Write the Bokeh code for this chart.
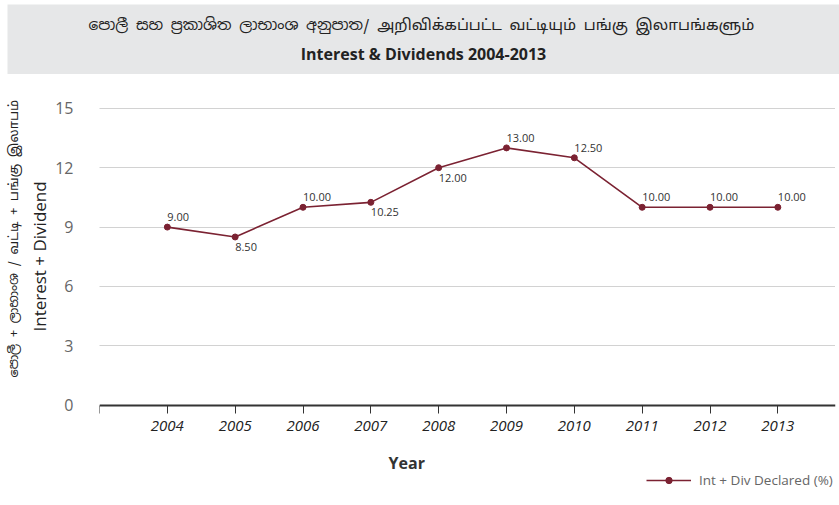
from bokeh.plotting import figure
from bokeh.models import (ColumnDataSource, Range1d, FixedTicker, Title, Label, Legend, LegendItem)
from bokeh.core.properties import value
from bokeh.embed import file_html
from bokeh.resources import INLINE

# ---- data ----
years = [2004, 2005, 2006, 2007, 2008, 2009, 2010, 2011, 2012, 2013]
int_div = [9.00, 8.50, 10.00, 10.25, 12.00, 13.00, 12.50, 10.00, 10.00, 10.00]
label_side = ["above", "below", "above", "below", "below", "above", "above", "above", "above", "above"]
y_ticks = [0, 3, 6, 9, 12, 15]
x_ticks = [2003, 2004, 2005, 2006, 2007, 2008, 2009, 2010, 2011, 2012, 2013]

title_si_ta = "පොලී සහ ප්‍රකාශිත ලාභාංශ අනුපාත/ அறிவிக்கப்பட்ட வட்டியும் பங்கு இலாபங்களும்"
title_en = "Interest & Dividends 2004-2013"
ylabel_si_ta = "පොලී + ලාභාංශ / வட்டி + பங்கு இலாபம்"
ylabel_en = "Interest + Dividend"
xlabel = "Year"
series_name = "Int + Div Declared (%)"

LINE = "#7b2232"
GREY_BAND = "#e6e7e8"
FONT = "Open Sans"
SI_FONT = "Noto Sans Sinhala, Noto Sans Tamil, Noto Sans"

W = 839

# ---- title band (its own root, frame = whole canvas, units = pixels) ----
TOP_H = 74
top = figure(width=W, height=TOP_H, x_range=Range1d(0, W), y_range=Range1d(TOP_H, 0),
             toolbar_location=None, output_backend="svg",
             x_axis_type=None, y_axis_type=None, min_border=0,
             min_border_left=0, min_border_right=0, min_border_top=0, min_border_bottom=0)
top.background_fill_color = "white"
top.border_fill_color = "white"
top.outline_line_color = None
top.grid.visible = False
top.quad(left=[7], right=[W], top=[4], bottom=[TOP_H], fill_color=GREY_BAND, line_color=None)
top.text(x=[421], y=[24], text=[title_si_ta], text_align="center", text_baseline="middle",
         text_font=value(SI_FONT), text_font_size="15.3px", text_color="#222222")
top.text(x=[423], y=[53], text=[title_en], text_align="center", text_baseline="middle",
         text_font=value(FONT), text_font_size="16px", text_font_style="bold", text_color="#222222")

# ---- main chart: frame runs down to the bottom, x axis fixed at y = 0 ----
p = figure(width=W, height=431, toolbar_location=None, output_backend="svg",
           x_range=Range1d(2003, 2013.85), y_range=Range1d(-4.81, 16),
           min_border_left=97, min_border_right=4, min_border_top=14, min_border_bottom=5)
p.outline_line_color = None
p.background_fill_color = "white"

src = ColumnDataSource(dict(
    x=years, y=int_div,
    txt=["%.2f" % v for v in int_div],
    yoff=[-10 if s == "above" else 10 for s in label_side],
))

ln = p.line("x", "y", source=src, line_color=LINE, line_width=1.6)
sc = p.scatter("x", "y", source=src, size=6, fill_color=LINE, line_color=LINE)
p.text("x", "y", text="txt", source=src, y_offset="yoff", x_offset=0,
       text_align="left", text_baseline="middle",
       text_font=value(FONT), text_font_size="11px", text_color="#333333")

# x axis
xa = p.xaxis[0]
xa.fixed_location = 0
xa.ticker = FixedTicker(ticks=x_ticks)
xa.major_label_overrides = {2003: ""}
xa.axis_line_color = "#333333"
xa.axis_line_width = 2
xa.major_tick_out = 8
xa.major_tick_in = 0
xa.major_tick_line_color = "#333333"
xa.minor_tick_line_color = None
xa.major_label_standoff = 8
xa.major_label_text_font = FONT
xa.major_label_text_font_style = "italic"
xa.major_label_text_font_size = "15px"
xa.major_label_text_color = "#222222"

# y axis
ya = p.yaxis[0]
ya.ticker = FixedTicker(ticks=y_ticks)
ya.axis_line_color = None
ya.major_tick_line_color = None
ya.minor_tick_line_color = None
ya.major_label_standoff = 20
ya.major_label_text_font = FONT
ya.major_label_text_font_size = "16px"
ya.major_label_text_color = "#666666"

p.xgrid.visible = False
p.ygrid.ticker = FixedTicker(ticks=y_ticks[1:])
p.ygrid.grid_line_color = "#a5a5a5"
p.ygrid.grid_line_dash = "1 1"
p.ygrid.grid_line_width = 1

# y labels as side titles (English nearer the axis, Sinhala / Tamil outside)
p.add_layout(Title(text=ylabel_en, align="left", offset=169, text_font=FONT,
                   text_font_size="17px", text_font_style="normal", text_color="#222222",
                   standoff=4), "left")
p.add_layout(Title(text=ylabel_si_ta, align="left", offset=123, text_font=SI_FONT,
                   text_font_size="13px", text_font_style="normal", text_color="#222222",
                   standoff=4), "left")

# x label
p.add_layout(Label(x=2007.53, y=-2.93, text=xlabel, text_align="center", text_baseline="middle",
                   text_font=FONT, text_font_size="16px", text_font_style="bold",
                   text_color="#333333"))

legend = Legend(items=[LegendItem(label=series_name, renderers=[ln, sc])],
                location=(547, 11), orientation="horizontal", padding=0, margin=0,
                border_line_alpha=0, background_fill_alpha=0, label_standoff=8,
                glyph_width=45, glyph_height=16, label_height=16,
                label_text_font=FONT, label_text_font_size="13.5px", label_text_color="#666666")
p.add_layout(legend)

open("out.html", "w").write(file_html([top, p], INLINE))
